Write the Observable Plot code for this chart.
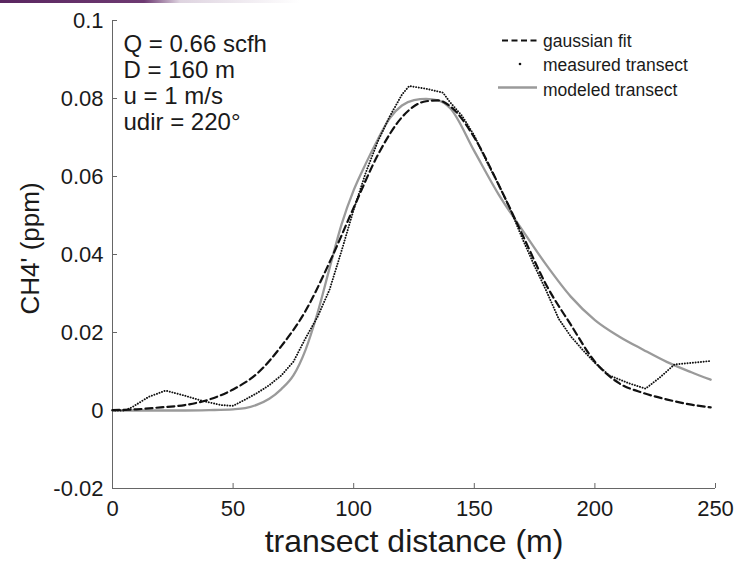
<!DOCTYPE html>
<html><head><meta charset="utf-8">
<script src="https://cdn.jsdelivr.net/npm/d3@7"></script>
<script src="https://cdn.jsdelivr.net/npm/@observablehq/plot@0.6"></script>
<style>
html,body{margin:0;padding:0;background:#fff;}
#wrap{position:relative;width:740px;height:564px;overflow:hidden;font-family:"Liberation Sans",Arial,Helvetica,sans-serif;}
#strip{position:absolute;left:0;top:0;width:300px;height:3px;background:linear-gradient(to right,#5a2660 0%,#6e3a72 48%,rgba(160,130,165,0.35) 60%,rgba(255,255,255,0) 100%);}
#legend{position:absolute;left:0;top:0;pointer-events:none;}
</style></head><body><div id="wrap"><div id="strip"></div></div>
<script>
const xTicks = [0, 50, 100, 150, 200, 250];
const yTicks = [-0.02, 0, 0.02, 0.04, 0.06, 0.08, 0.1];

const gaussX = [0,10,20,30,40,50,60,70,80,90,100,110,120,130,135,140,150,160,170,180,190,200,210,220,230,240,248];
const gaussY = [0.0001,0.0003,0.0008,0.0014,0.0028,0.0054,0.0095,0.0165,0.0255,0.038,0.052,0.0655,0.0752,0.0793,0.0795,0.078,0.07,0.058,0.045,0.032,0.022,0.0125,0.007,0.0045,0.0028,0.0015,0.0008];

const measX = [0,5,8,15,22,30,37,45,50,55,60,65,70,75,80,85,90,95,100,105,110,115,120,123,130,137,140,145,150,155,160,165,170,175,180,185,190,195,200,206,214,221,227,233,240,248];
const measY = [0,0,0.0008,0.0035,0.0051,0.0038,0.0025,0.0014,0.0012,0.0028,0.0045,0.0065,0.009,0.0125,0.0185,0.024,0.031,0.041,0.0515,0.061,0.069,0.0755,0.081,0.0832,0.0825,0.0815,0.079,0.0755,0.0705,0.064,0.058,0.0515,0.044,0.037,0.0305,0.0235,0.019,0.0155,0.0122,0.009,0.007,0.0056,0.0085,0.0118,0.0122,0.0127];

const modX = [0,10,20,30,40,50,55,60,65,70,75,80,85,90,95,100,105,110,115,120,125,130,135,140,150,160,170,180,190,200,210,220,230,240,248];
const modY = [0,0,0,0,0.0001,0.0003,0.0006,0.0015,0.003,0.0055,0.009,0.0155,0.025,0.0365,0.0478,0.0565,0.0633,0.0695,0.075,0.0782,0.0796,0.0799,0.0795,0.0775,0.0665,0.0555,0.0462,0.0372,0.0292,0.0232,0.019,0.0156,0.0124,0.0098,0.0079];

const legendLabels = ["gaussian fit", "measured transect", "modeled transect"];
const annotationLines = ["Q = 0.66 scfh", "D = 160 m", "u = 1 m/s", "udir = 220°"];
const xLabel = "transect distance (m)";
const yLabel = "CH4' (ppm)";

const toRows = (xs, ys) => xs.map((x, i) => ({x, y: ys[i]}));
const fmtY = d => d === 0 ? "0" : String(+d.toFixed(2));
const ink = "#1a1a1a";

const plot = Plot.plot({
  width: 740, height: 564,
  marginLeft: 112, marginRight: 25, marginTop: 20, marginBottom: 76,
  style: {fontFamily: "'Liberation Sans', Arial, Helvetica, sans-serif", background: "transparent", color: ink},
  x: {domain: [0, 250]},
  y: {domain: [-0.02, 0.1]},
  marks: [
    Plot.ruleX([0], {stroke: "#666", strokeWidth: 1}),
    Plot.ruleY([-0.02], {stroke: "#666", strokeWidth: 1}),
    Plot.axisX({ticks: xTicks, tickSize: 0, tickPadding: 12, fontSize: 22, label: null, tickFormat: d => String(d), fill: ink}),
    Plot.axisX({ticks: xTicks, tickSize: -5, fill: "none", stroke: "#666", label: null}),
    Plot.axisY({ticks: yTicks, tickSize: 0, tickPadding: 9, fontSize: 22, label: null, tickFormat: fmtY, fill: ink}),
    Plot.axisY({ticks: yTicks, tickSize: -5, fill: "none", stroke: "#666", label: null}),
    Plot.line(toRows(modX, modY), {x: "x", y: "y", stroke: "#9a9a9a", strokeWidth: 2.3, curve: "monotone-x"}),
    Plot.line(toRows(gaussX, gaussY), {x: "x", y: "y", stroke: "#111", strokeWidth: 2.2, strokeDasharray: "7,4", curve: "monotone-x"}),
    Plot.line(toRows(measX, measY), {x: "x", y: "y", stroke: "#111", strokeWidth: 1.9, strokeDasharray: "0.1,2.6", strokeLinecap: "round"}),
    Plot.text([annotationLines.join("\n")], {text: d => d, frameAnchor: "top-left", textAnchor: "start", lineAnchor: "top", dx: 11, dy: 13, fontSize: 24, lineHeight: 1.083, fill: ink}),
    Plot.text([xLabel], {text: d => d, frameAnchor: "bottom", dy: 63, fontSize: 32, fill: ink}),
    Plot.text([yLabel], {text: d => d, frameAnchor: "left", textAnchor: "middle", rotate: -90, dx: -82, dy: -6, fontSize: 26, fill: ink})
  ]
});
const wrap = document.getElementById("wrap");
wrap.appendChild(plot);

// legend overlay
const ns = "http://www.w3.org/2000/svg";
const lg = document.createElementNS(ns, "svg");
lg.setAttribute("id", "legend");
lg.setAttribute("width", 740);
lg.setAttribute("height", 564);
const mk = (tag, attrs) => { const e = document.createElementNS(ns, tag); for (const k in attrs) e.setAttribute(k, attrs[k]); lg.appendChild(e); return e; };
legendLabels.forEach((label, i) => {
  const cy = 40.5 + i * 24.5;
  if (i === 0) mk("line", {x1: 502, x2: 538, y1: cy, y2: cy, stroke: "#111", "stroke-width": 2.2, "stroke-dasharray": "6,3.5"});
  if (i === 1) mk("circle", {cx: 520, cy: cy - 1, r: 1.3, fill: "#111"});
  if (i === 2) mk("line", {x1: 498, x2: 537, y1: cy - 2, y2: cy - 2, stroke: "#9a9a9a", "stroke-width": 2.3});
  const t = mk("text", {x: 543, y: cy, dy: "0.35em", "font-size": 17.5, fill: ink, "font-family": "'Liberation Sans', Arial, sans-serif"});
  t.textContent = label;
});
wrap.appendChild(lg);
</script>
</body></html>
